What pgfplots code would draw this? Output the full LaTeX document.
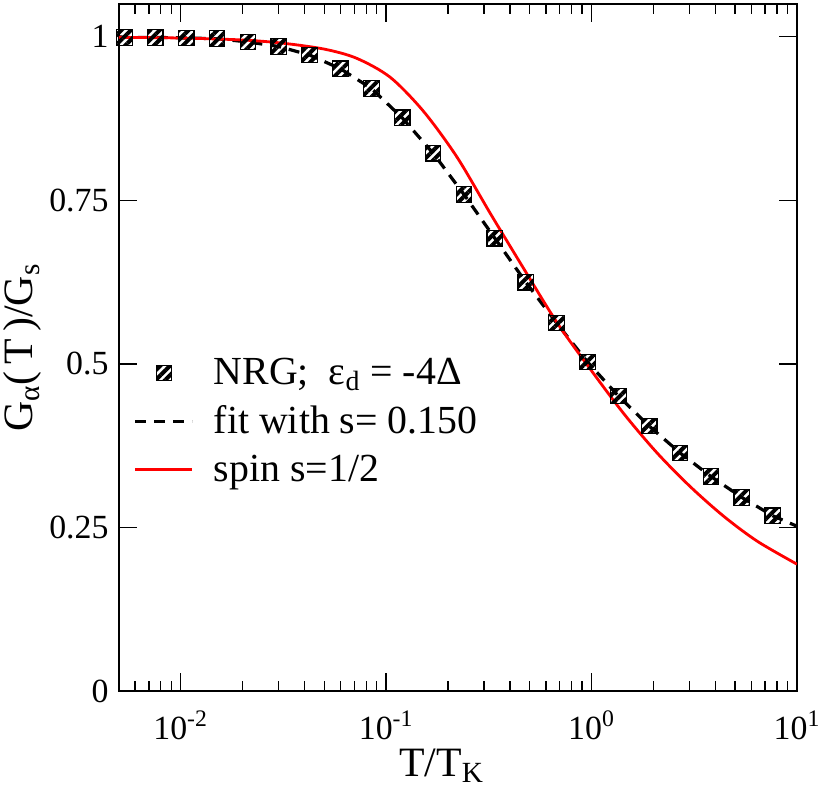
\documentclass[border=0pt]{standalone}
\usepackage{fontspec}
\setmainfont{Liberation Serif}
\usepackage{pgfplots}
\pgfplotsset{compat=1.18}
\usetikzlibrary{patterns.meta,calc}
\pgfplotsset{
  legline/.style={legend image code/.code={\draw[##1] (0bp,0bp) -- (28.5bp,0bp);}},
  legmark/.style={legend image code/.code={\draw[mark repeat=2,mark phase=2,##1] plot coordinates {(0bp,0bp) (14.25bp,0bp) (28.5bp,0bp)};}},
}
\pgfplotstableread{
T G
0.00532 0.999
0.00752 0.999
0.01063 0.998
0.01502 0.997
0.02124 0.992
0.03002 0.985
0.04243 0.972
0.05997 0.951
0.08476 0.921
0.1198 0.876
0.1693 0.822
0.2393 0.759
0.3383 0.692
0.4781 0.625
0.6758 0.5625
0.9552 0.503
1.350 0.451
1.908 0.405
2.697 0.364
3.812 0.328
5.388 0.296
7.616 0.268
}\nrg
\pgfplotstableread{
T G
0.005 1.0
0.00532 0.999
0.00752 0.999
0.01063 0.998
0.01502 0.997
0.02124 0.992
0.03002 0.985
0.04243 0.972
0.05997 0.951
0.08476 0.921
0.1198 0.876
0.1693 0.822
0.2393 0.759
0.3383 0.692
0.4781 0.625
0.6758 0.5625
0.9552 0.503
1.350 0.451
1.908 0.405
2.697 0.364
3.812 0.328
5.388 0.296
7.616 0.268
10 0.252
}\fit
\pgfplotstableread{
T G
0.005 0.999
0.01 0.998
0.02 0.995
0.0316 0.990
0.0501 0.981
0.0719 0.967
0.1047 0.938
0.152 0.886
0.2213 0.816
0.3214 0.730
0.4667 0.646
0.6792 0.563
0.9863 0.492
1.435 0.424
2.084 0.364
3.034 0.312
4.406 0.267
6.412 0.229
10 0.194
}\spin
\begin{document}
\begin{tikzpicture}
\begin{axis}[
  scale only axis, width=339.5bp, height=344bp,
  xmode=log, xmin=0.005, xmax=10, ymin=0, ymax=1.05,
  xtick={0.01,0.1,1,10},
  xticklabels={10\textsuperscript{-2},10\textsuperscript{-1},10\textsuperscript{0},10\textsuperscript{1}},
  minor xtick={0.006,0.007,0.008,0.009,0.02,0.03,0.04,0.05,0.06,0.07,0.08,0.09,0.2,0.3,0.4,0.5,0.6,0.7,0.8,0.9,2,3,4,5,6,7,8,9},
  ytick={0,0.25,0.5,0.75,1},
  yticklabels={0,0.25,0.5,0.75,1},
  tick align=inside,
  major tick length=9bp, minor tick length=5bp,
  every tick/.style={black, line width=0.7bp},
  axis line style={line width=1bp},
  ticklabel style={font=\fontsize{17}{20}\selectfont},
  xticklabel style={inner sep=0bp, anchor=base, yshift=-24bp},
  yticklabel style={inner sep=1bp, xshift=-4bp},
  xlabel={T/T\textsubscript{K}},
  ylabel={G\textsubscript{α}(\,T\,)/G\textsubscript{s}},
  label style={font=\fontsize{21}{25}\selectfont},
  xlabel style={at={(axis description cs:0.476,0)}, anchor=base, inner sep=0bp, yshift=-42.5bp},
  ylabel style={inner sep=2.5bp},
  legend style={draw=none, fill=none, at={(0.0127,0.4964)}, anchor=north west,
    font=\fontsize{20}{24}\selectfont, row sep=5bp,
    /tikz/every odd column/.append style={column sep=8bp}},
  legend cell align=left,
]
\coordinate (SW) at (rel axis cs:0,0);
\coordinate (NE) at (rel axis cs:1,1);
\addplot[only marks, mark=square*, mark size=3.9bp,
  mark options={draw=black, line width=0.6bp, pattern={Lines[angle=45,distance=3.4bp,line width=2bp]}, pattern color=black},
  legmark]
  table[x=T,y=G]{\nrg};
\addlegendentry{NRG;\ \ ε\textsubscript{d} = -4Δ}
\addplot[black, line width=1.6bp, dash pattern=on 5.5bp off 4bp, legline] table[x=T,y=G]{\fit};
\addlegendentry{fit with s= 0.150}
\addplot[red, line width=1.4bp, smooth, legline] table[x=T,y=G]{\spin};
\addlegendentry{spin s=1/2}
\end{axis}
\pgfresetboundingbox
\path ($(SW)+(-59.5bp,-52bp)$) rectangle ($(NE)+(12bp,2bp)$);
\end{tikzpicture}
\end{document}
